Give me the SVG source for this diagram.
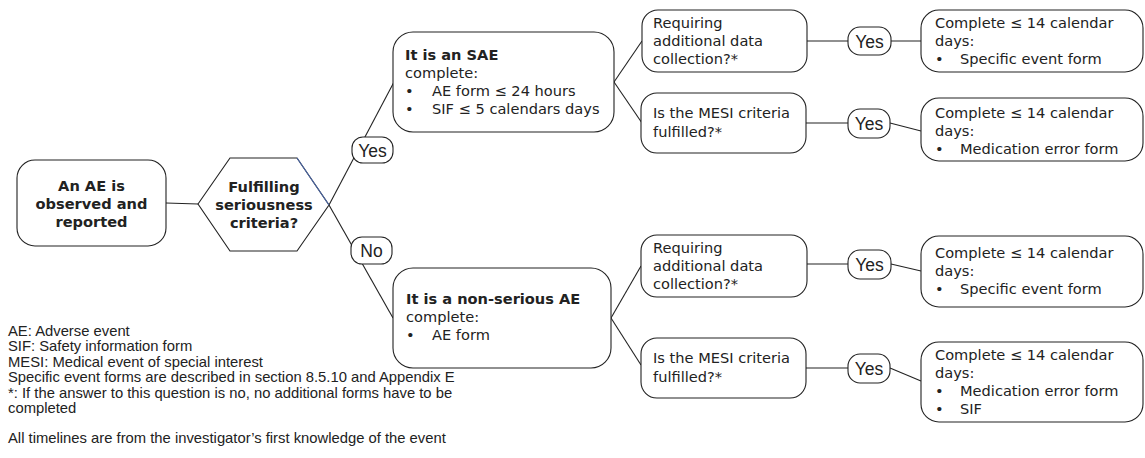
<svg xmlns="http://www.w3.org/2000/svg" width="1145" height="458" viewBox="0 0 1145 458">
<style>
.box{fill:#fff;stroke:#222;stroke-width:1.1}
.ln{fill:none;stroke:#222;stroke-width:1.1}
.t{font-family:"DejaVu Sans",Verdana,sans-serif;font-size:14.6px;fill:#222}
.b{font-weight:bold}
.c{text-anchor:middle}
.lbl{font-family:"Liberation Sans",Arial,sans-serif;font-size:17.5px;fill:#222;text-anchor:middle}
.fn{font-family:"Liberation Sans",Arial,sans-serif;font-size:14.8px;fill:#222}
</style>
<rect width="1145" height="458" fill="#fff"/>
<g id="connectors">
<line class="ln" x1="166" y1="203" x2="198" y2="204"/>
<line class="ln" x1="329" y1="205" x2="394" y2="82"/>
<line class="ln" x1="329" y1="205" x2="393" y2="318"/>
<line class="ln" x1="614" y1="82" x2="642" y2="41"/>
<line class="ln" x1="614" y1="82" x2="642" y2="123"/>
<line class="ln" x1="611" y1="318" x2="641" y2="266"/>
<line class="ln" x1="611" y1="318" x2="641" y2="365"/>
<line class="ln" x1="807" y1="41" x2="921" y2="41"/>
<line class="ln" x1="806" y1="123" x2="848" y2="123"/>
<line class="ln" x1="890" y1="123" x2="921" y2="131"/>
<line class="ln" x1="807" y1="264" x2="848" y2="264"/>
<line class="ln" x1="891" y1="264" x2="921" y2="271"/>
<line class="ln" x1="806" y1="368" x2="848" y2="368"/>
<line class="ln" x1="890" y1="368" x2="921" y2="381"/>
</g>
<g id="n-start">
<rect class="box" x="17" y="160" width="149" height="86" rx="18"/>
<text class="t b c" x="91.5" y="191">An AE is</text>
<text class="t b c" x="91.5" y="209">observed and</text>
<text class="t b c" x="91.5" y="227">reported</text>
</g>
<g id="n-decision">
<polygon class="box" points="198,204 230,158 297,158 329,205 297,251 230,251"/>
<line x1="297" y1="158" x2="329" y2="205" stroke="#4a67a8" stroke-width="1.1"/>
<text class="t b c" x="264" y="192">Fulfilling</text>
<text class="t b c" x="264" y="210">seriousness</text>
<text class="t b c" x="264" y="228">criteria?</text>
</g>
<g id="l-yes">
<rect class="box" x="352" y="137" width="41" height="26" rx="11"/>
<text class="lbl" x="372.5" y="156.5">Yes</text>
</g>
<g id="l-no">
<rect class="box" x="351" y="237" width="41" height="27" rx="11"/>
<text class="lbl" x="371.5" y="257">No</text>
</g>
<g id="n-sae">
<rect class="box" x="393" y="32" width="221" height="100" rx="20"/>
<text class="t b" x="405" y="60">It is an SAE</text>
<text class="t" x="405" y="78">complete:</text>
<text class="t" x="405" y="96">•</text><text class="t" x="432" y="96">AE form ≤ 24 hours</text>
<text class="t" x="405" y="114">•</text><text class="t" x="432" y="114">SIF ≤ 5 calendars days</text>
</g>
<g id="n-nonserious">
<rect class="box" x="393" y="268" width="218" height="100" rx="20"/>
<text class="t b" x="406" y="304">It is a non-serious AE</text>
<text class="t" x="406" y="322">complete:</text>
<text class="t" x="406" y="340">•</text><text class="t" x="432" y="340">AE form</text>
</g>
<g id="n-req1">
<rect class="box" x="642" y="10" width="165" height="62" rx="16"/>
<text class="t" x="653" y="28">Requiring</text>
<text class="t" x="653" y="46">additional data</text>
<text class="t" x="653" y="64">collection?*</text>
</g>
<g id="n-mesi1">
<rect class="box" x="641" y="93" width="165" height="60" rx="16"/>
<text class="t" x="653" y="118">Is the MESI criteria</text>
<text class="t" x="653" y="137">fulfilled?*</text>
</g>
<g id="n-req2">
<rect class="box" x="641" y="235" width="166" height="62" rx="16"/>
<text class="t" x="653" y="253">Requiring</text>
<text class="t" x="653" y="271">additional data</text>
<text class="t" x="653" y="289">collection?*</text>
</g>
<g id="n-mesi2">
<rect class="box" x="641" y="338" width="165" height="60" rx="16"/>
<text class="t" x="653" y="363">Is the MESI criteria</text>
<text class="t" x="653" y="382">fulfilled?*</text>
</g>
<g id="l-yes1">
<rect class="box" x="848" y="27" width="43" height="28" rx="12"/>
<text class="lbl" x="869.5" y="47.5">Yes</text>
</g>
<g id="l-yes2">
<rect class="box" x="848" y="109" width="42" height="29" rx="12"/>
<text class="lbl" x="869" y="130">Yes</text>
</g>
<g id="l-yes3">
<rect class="box" x="848" y="250" width="43" height="29" rx="12"/>
<text class="lbl" x="869.5" y="271">Yes</text>
</g>
<g id="l-yes4">
<rect class="box" x="848" y="354" width="42" height="29" rx="12"/>
<text class="lbl" x="869" y="375">Yes</text>
</g>
<g id="n-c1">
<rect class="box" x="921" y="10" width="222" height="62" rx="18"/>
<text class="t" x="935" y="28">Complete ≤ 14 calendar</text>
<text class="t" x="935" y="46">days:</text>
<text class="t" x="935" y="64">•</text><text class="t" x="960" y="64">Specific event form</text>
</g>
<g id="n-c2">
<rect class="box" x="921" y="98" width="222" height="63" rx="18"/>
<text class="t" x="935" y="118">Complete ≤ 14 calendar</text>
<text class="t" x="935" y="136">days:</text>
<text class="t" x="935" y="154">•</text><text class="t" x="960" y="154">Medication error form</text>
</g>
<g id="n-c3">
<rect class="box" x="921" y="236" width="222" height="71" rx="18"/>
<text class="t" x="935" y="258">Complete ≤ 14 calendar</text>
<text class="t" x="935" y="276">days:</text>
<text class="t" x="935" y="294">•</text><text class="t" x="960" y="294">Specific event form</text>
</g>
<g id="n-c4">
<rect class="box" x="921" y="342" width="222" height="80" rx="18"/>
<text class="t" x="935" y="360">Complete ≤ 14 calendar</text>
<text class="t" x="935" y="378">days:</text>
<text class="t" x="935" y="396">•</text><text class="t" x="960" y="396">Medication error form</text>
<text class="t" x="935" y="414">•</text><text class="t" x="960" y="414">SIF</text>
</g>
<g id="notes">
<text class="fn" x="8" y="336">AE: Adverse event</text>
<text class="fn" x="8" y="351">SIF: Safety information form</text>
<text class="fn" x="8" y="366.5">MESI: Medical event of special interest</text>
<text class="fn" x="8" y="382">Specific event forms are described in section 8.5.10 and Appendix E</text>
<text class="fn" x="8" y="397.5">*: If the answer to this question is no, no additional forms have to be</text>
<text class="fn" x="8" y="413">completed</text>
<text class="fn" x="8" y="443">All timelines are from the investigator’s first knowledge of the event</text>
</g>
</svg>
